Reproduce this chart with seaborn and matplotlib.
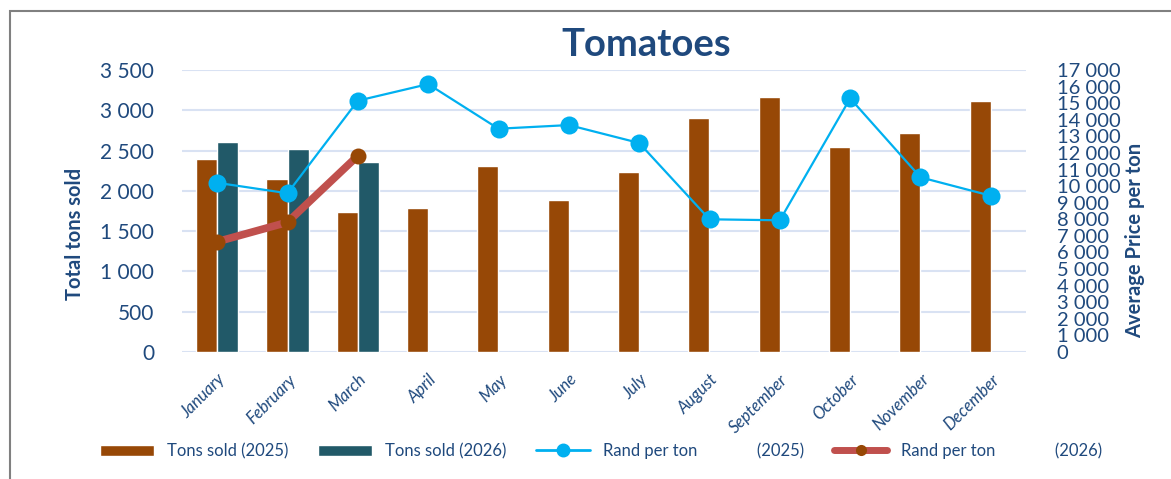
import numpy as np
import pandas as pd
import matplotlib.pyplot as plt
import matplotlib.ticker as mticker
from matplotlib.patches import Patch, Rectangle
from matplotlib.lines import Line2D
import seaborn as sns

# ── Data ──────────────────────────────────────────────────────────────────────
months = ["January", "February", "March", "April", "May", "June", "July",
          "August", "September", "October", "November", "December"]
tons_2025 = [2395, 2147, 1737, 1787, 2308, 1886, 2234, 2904, 3163, 2544, 2718, 3113]
tons_2026 = [2602, 2515, 2354, np.nan, np.nan, np.nan, np.nan, np.nan, np.nan,
             np.nan, np.nan, np.nan]
price_2025 = [10200, 9570, 15150, 16150, 13460, 13680, 12600, 8000, 7940,
              15290, 10530, 9420]
price_2026 = [6650, 7820, 11830, np.nan, np.nan, np.nan, np.nan, np.nan, np.nan,
              np.nan, np.nan, np.nan]

# ── Style ─────────────────────────────────────────────────────────────────────
NAVY   = "#1F497D"
BROWN  = "#974806"
TEAL   = "#215968"
BLUE   = "#00B0F0"
RED    = "#C0504D"
GRID   = "#D9E2F3"

sns.set_theme(style="white")
plt.rcParams["font.family"] = ["Lato", "DejaVu Sans"]

W, H = 1171, 479
fig = plt.figure(figsize=(W / 100, H / 100), dpi=100)
ax = fig.add_axes([182 / W, 1 - 352 / H, (1026 - 182) / W, (352 - 70) / H])

bars = pd.DataFrame({
    "month": months * 2,
    "year": ["2025"] * 12 + ["2026"] * 12,
    "tons": tons_2025 + tons_2026,
})
sns.barplot(data=bars, x="month", y="tons", hue="year", order=months,
            hue_order=["2025", "2026"], palette=[BROWN, TEAL],
            width=0.6, errorbar=None, legend=False, saturation=1, ax=ax)

fmt = mticker.FuncFormatter(lambda v, _: f"{v:,.0f}".replace(",", " "))

ax.set_ylim(0, 3500)
ax.set_xlim(-0.5, 11.5)
ax.yaxis.set_major_locator(mticker.MultipleLocator(500))
ax.yaxis.set_major_formatter(fmt)
ax.grid(axis="y", color=GRID, linewidth=1.5)
ax.set_axisbelow(True)
ax.set_xlabel("")
ax.set_ylabel("")
ax.tick_params(axis="y", length=0, pad=20, labelsize=15, labelcolor=NAVY)
ax.tick_params(axis="x", length=0, pad=14)
ax.set_xticks(range(12))
ax.set_xticklabels(months, rotation=45, ha="right", rotation_mode="anchor",
                   fontsize=12, fontstyle="italic", color=NAVY)
for s in ax.spines.values():
    s.set_visible(False)

# ── Price lines on right axis ─────────────────────────────────────────────────
ax2 = ax.twinx()
x_pos = np.arange(len(months))
sns.lineplot(x=x_pos, y=price_2025, color=BLUE, linewidth=1.6, marker="o",
             markersize=13, markeredgewidth=0, ax=ax2)
sns.lineplot(x=x_pos, y=price_2026, color=RED, linewidth=5.5, marker="o",
             markersize=11.5, markerfacecolor=BROWN, markeredgewidth=0, ax=ax2)
ax2.set_ylim(0, 17000)
ax2.yaxis.set_major_locator(mticker.MultipleLocator(1000))
ax2.yaxis.set_major_formatter(fmt)
# labels are packed tightly, as in the original chart
ax2.tick_params(axis="y", length=0, pad=22, labelsize=14.5, labelcolor=NAVY)
ax2.grid(False)
for s in ax2.spines.values():
    s.set_visible(False)

# ── Titles and labels ─────────────────────────────────────────────────────────
fig.text(646 / W, 1 - 45 / H, "Tomatoes", ha="center", va="center",
         fontsize=27.5, fontweight="bold", color=NAVY)
fig.text(75 / W, 1 - 234 / H, "Total tons sold", ha="center", va="center",
         rotation=90, fontsize=14.5, fontweight="bold", color=NAVY)
fig.text(1135 / W, 1 - 240 / H, "Average Price per ton", ha="center", va="center",
         rotation=90, fontsize=14.5, fontweight="bold", color=NAVY)

# ── Legend ────────────────────────────────────────────────────────────────────
handles = [
    Patch(facecolor=BROWN),
    Patch(facecolor=TEAL),
    Line2D([], [], color=BLUE, linewidth=2, marker="o", markersize=9),
    Line2D([], [], color=RED, linewidth=5, marker="o", markersize=8,
           markerfacecolor=BROWN, markeredgewidth=0),
]
labels = ["Tons sold (2025)", "Tons sold (2026)",
          "Rand per ton" + " " * 14 + "(2025)", "Rand per ton" + " " * 14 + "(2026)"]
leg = fig.legend(handles, labels, loc="center", bbox_to_anchor=(601 / W, 1 - 451 / H),
                 ncol=4, frameon=False, fontsize=12, handlelength=3.2,
                 handleheight=0.7, handletextpad=0.8, columnspacing=1.8)
for t in leg.get_texts():
    t.set_color(NAVY)

# ── Chart border ──────────────────────────────────────────────────────────────
fig.patches.append(Rectangle((10 / W, -0.1), 1.5, 1 - 11 / H + 0.1,
                             transform=fig.transFigure, fill=False,
                             edgecolor="#808080", linewidth=1.5))

fig.savefig("out.png", dpi=100)
